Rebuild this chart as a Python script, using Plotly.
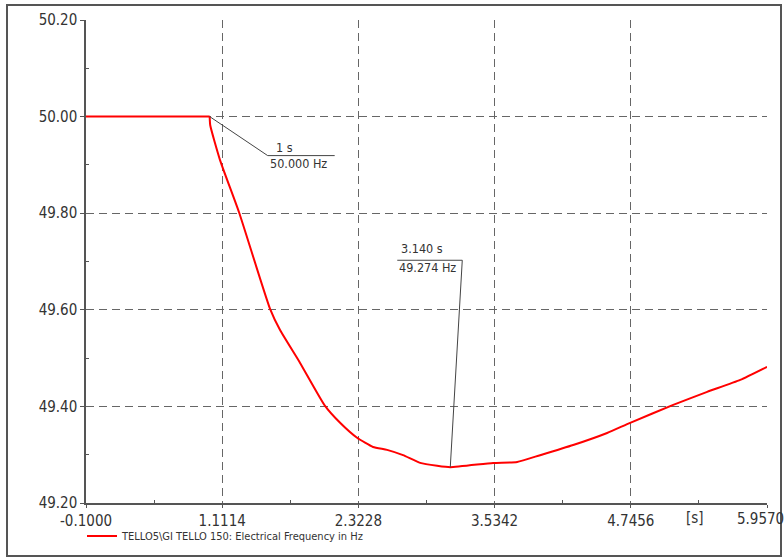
import plotly.graph_objects as go

# Data
time_s = [-0.1, 1.0, 1.005, 1.092, 1.261, 1.537, 1.626, 1.804, 2.026, 2.160, 2.311, 2.453,
          2.578, 2.720, 2.872, 3.023, 3.140, 3.521, 3.735, 3.939, 4.233, 4.535, 4.740,
          5.123, 5.425, 5.719, 5.957]
freq_hz = [50.0, 50.0, 49.982, 49.910, 49.802, 49.602, 49.558, 49.490, 49.401, 49.366, 49.335,
           49.316, 49.310, 49.299, 49.283, 49.277, 49.274, 49.283, 49.285, 49.299, 49.320,
           49.345, 49.366, 49.403, 49.430, 49.455, 49.482]
x_ticks = [-0.1, 1.1114, 2.3228, 3.5342, 4.7456, 5.957]
x_tick_labels = ["-0.1000", "1.1114", "2.3228", "3.5342", "4.7456", "5.9570"]
y_ticks = [49.2, 49.4, 49.6, 49.8, 50.0, 50.2]
y_tick_labels = ["49.20", "49.40", "49.60", "49.80", "50.00", "50.20"]
series_name = "TELLO5\\GI TELLO 150: Electrical Frequency in Hz"
marker_points = [(1.0, 50.000), (3.140, 49.274)]

FONT = "Liberation Sans Narrow, DejaVu Sans Condensed, Liberation Sans, Arial, sans-serif"
GRID = "#666666"
AXIS = "#555555"
TXT = "#333333"
RED = "#ff0000"

fig = go.Figure()
# flat pre-event part (straight) and the dynamic part (smoothed) of the same series
fig.add_trace(go.Scatter(x=time_s[:2], y=freq_hz[:2], mode="lines", name=series_name,
                         legendgroup="f", showlegend=False, hoverinfo="skip",
                         line=dict(color=RED, width=2)))
fig.add_trace(go.Scatter(x=time_s[1:], y=freq_hz[1:], mode="lines", name=series_name,
                         legendgroup="f", showlegend=True,
                         line=dict(color=RED, width=2, shape="spline", smoothing=0.5)))

fig.update_layout(
    width=784, height=558,
    margin=dict(l=86, r=17, t=20, b=55, autoexpand=False),
    paper_bgcolor="white", plot_bgcolor="white",
    font=dict(family=FONT, color=TXT, size=15),
    showlegend=True,
    legend=dict(orientation="h", xref="container", yref="container",
                x=82 / 784, y=1 - 536 / 558, xanchor="left", yanchor="middle",
                font=dict(size=11, family=FONT, color=TXT), bgcolor="rgba(0,0,0,0)",
                itemwidth=30),
)

# last x label is placed separately so it stays inside the page
shown_x_labels = x_tick_labels[:-1] + [""]
fig.update_xaxes(range=[-0.1, 5.957], tickvals=x_ticks, ticktext=shown_x_labels,
                 showline=True, linecolor=AXIS, linewidth=1.5, mirror=False,
                 showgrid=True, gridcolor=GRID, griddash="8px,5px", gridwidth=1,
                 ticks="outside", ticklen=3, tickcolor=AXIS, zeroline=False,
                 minor=dict(tickvals=[(x_ticks[i] + x_ticks[i + 1]) / 2 for i in range(len(x_ticks) - 1)],
                            ticks="inside", ticklen=3, tickcolor=AXIS, showgrid=False),
                 tickfont=dict(size=15, family=FONT, color=TXT))
fig.update_yaxes(range=[49.2, 50.2], tickvals=y_ticks, ticktext=y_tick_labels,
                 showline=True, linecolor=AXIS, linewidth=1.5, mirror=False,
                 showgrid=True, gridcolor=GRID, griddash="8px,5px", gridwidth=1,
                 ticks="outside", ticklen=4, tickcolor=AXIS, zeroline=False,
                 ticklabeloverflow="allow",
                 minor=dict(tickvals=[(y_ticks[i] + y_ticks[i + 1]) / 2 for i in range(len(y_ticks) - 1)],
                            ticks="inside", ticklen=3, tickcolor=AXIS, showgrid=False),
                 tickfont=dict(size=15, family=FONT, color=TXT))

fig.add_annotation(x=x_ticks[-1], y=0, xref="x", yref="paper", yshift=-16, xshift=-7,
                   text=x_tick_labels[-1], showarrow=False, yanchor="middle",
                   font=dict(size=15, family=FONT, color=TXT))

# "[s]" unit label on the x axis
fig.add_annotation(x=5.318, y=0, xref="x", yref="paper", yshift=-15, text="[s]",
                   showarrow=False, font=dict(size=15, family=FONT, color=TXT), yanchor="middle")

# Marker labels with leader lines (pixel offsets relative to marked point)
label_specs = [
    dict(path="M0,0 L58,-39 L125,-39", up=(64, -31), lo=(58, -47)),
    dict(path="M0,0 L12,207 L-53,207", up=(-51, 219), lo=(-53, 200)),
]
for (t, f), spec in zip(marker_points, label_specs):
    fig.add_shape(type="path", xref="x", yref="y", xsizemode="pixel", ysizemode="pixel",
                  xanchor=t, yanchor=f, path=spec["path"],
                  line=dict(color="#444444", width=1))
    t_txt = f"{t:g} s" if t == int(t) else f"{t:.3f} s"
    fig.add_annotation(x=t, y=f, xref="x", yref="y", text=t_txt, showarrow=False,
                       xanchor="left", yanchor="middle", xshift=spec["up"][0], yshift=spec["up"][1],
                       font=dict(size=12.5, family=FONT, color=TXT))
    fig.add_annotation(x=t, y=f, xref="x", yref="y", text=f"{f:.3f} Hz", showarrow=False,
                       xanchor="left", yanchor="middle", xshift=spec["lo"][0], yshift=spec["lo"][1],
                       font=dict(size=12.5, family=FONT, color=TXT))

# Outer frame
fig.add_shape(type="rect", xref="paper", yref="paper",
              x0=(7 - 86) / 681, x1=(781 - 86) / 681, y0=(503 - 556) / 483, y1=(503 - 5) / 483,
              line=dict(color="#555555", width=2), layer="below")

fig.write_html("out.html", config={"displayModeBar": False},
               post_script="document.body.style.margin='0';")
